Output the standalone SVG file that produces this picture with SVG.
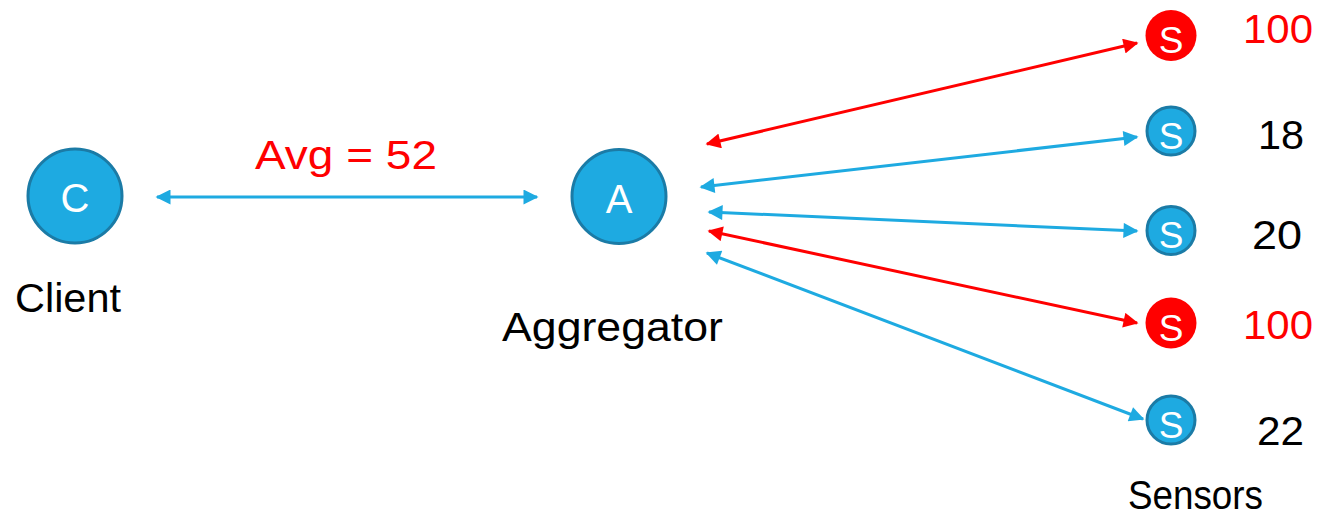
<svg xmlns="http://www.w3.org/2000/svg" width="1321" height="516" viewBox="0 0 1321 516">
  <defs>
    <style>
      .lbl { font-family: "Liberation Sans", Arial, sans-serif; font-size: 40px; fill: #000; }
      .red { fill: #FF0000; }
      .in { font-family: "Liberation Sans", Arial, sans-serif; fill: #fff; text-anchor: middle; }
      .big { font-size: 40px; }
      .sm { font-size: 37px; }
      .nodeB { fill: #1EAAE1; stroke: #1B7BA6; stroke-width: 3; }
      .nodeR { fill: #FF0000; }
      .link { fill: none; stroke-width: 3; }
      .lb { stroke: #1EAAE1; marker-start: url(#hb); marker-end: url(#hb); }
      .lr { stroke: #FF0000; marker-start: url(#hr); marker-end: url(#hr); }
    </style>
    <marker id="hb" viewBox="0 0 10 10" refX="9" refY="5" markerWidth="5.6" markerHeight="5" markerUnits="strokeWidth" orient="auto-start-reverse">
      <path d="M0,0 L10,5 L0,10 z" fill="#1EAAE1"/>
    </marker>
    <marker id="hr" viewBox="0 0 10 10" refX="9" refY="5" markerWidth="5.6" markerHeight="5" markerUnits="strokeWidth" orient="auto-start-reverse">
      <path d="M0,0 L10,5 L0,10 z" fill="#FF0000"/>
    </marker>
  </defs>

  <!-- connectors -->
  <g id="connectors">
    <line class="link lb" x1="157" y1="197" x2="537" y2="197"/>
    <line class="link lr" x1="707" y1="144" x2="1137" y2="43"/>
    <line class="link lb" x1="701" y1="187" x2="1137" y2="137"/>
    <line class="link lb" x1="709" y1="212" x2="1137" y2="231"/>
    <line class="link lr" x1="709" y1="231" x2="1137" y2="323"/>
    <line class="link lb" x1="707" y1="253" x2="1143" y2="419"/>
    <text class="lbl red" x="255" y="169" textLength="182" lengthAdjust="spacingAndGlyphs">Avg = 52</text>
  </g>

  <!-- client -->
  <g id="client">
    <circle class="nodeB" cx="75" cy="196" r="47"/>
    <text class="in big" x="75" y="212">C</text>
    <text class="lbl" x="15" y="312" textLength="106" lengthAdjust="spacingAndGlyphs" font-size="42">Client</text>
  </g>

  <!-- aggregator -->
  <g id="aggregator">
    <circle class="nodeB" cx="619" cy="196.5" r="47"/>
    <text class="in big" x="619" y="213">A</text>
    <text class="lbl" x="502" y="341" textLength="221" lengthAdjust="spacingAndGlyphs">Aggregator</text>
  </g>

  <!-- sensors -->
  <g id="sensor1">
    <circle class="nodeR" cx="1171" cy="35.5" r="25.5"/>
    <text class="in sm" x="1171" y="53">S</text>
    <text class="lbl red" x="1243" y="43" textLength="70" lengthAdjust="spacingAndGlyphs">100</text>
  </g>
  <g id="sensor2">
    <circle class="nodeB" cx="1171" cy="131" r="24"/>
    <text class="in sm" x="1171" y="148.5">S</text>
    <text class="lbl" x="1258" y="149" textLength="46" lengthAdjust="spacingAndGlyphs">18</text>
  </g>
  <g id="sensor3">
    <circle class="nodeB" cx="1171" cy="230.5" r="24"/>
    <text class="in sm" x="1171" y="248">S</text>
    <text class="lbl" x="1252" y="249" textLength="50" lengthAdjust="spacingAndGlyphs">20</text>
  </g>
  <g id="sensor4">
    <circle class="nodeR" cx="1171" cy="323" r="25.5"/>
    <text class="in sm" x="1171" y="340.5">S</text>
    <text class="lbl red" x="1243" y="339" textLength="70" lengthAdjust="spacingAndGlyphs">100</text>
  </g>
  <g id="sensor5">
    <circle class="nodeB" cx="1171" cy="420" r="24"/>
    <text class="in sm" x="1171" y="437.5">S</text>
    <text class="lbl" x="1257" y="445" textLength="47" lengthAdjust="spacingAndGlyphs">22</text>
  </g>
  <g id="sensors-label">
    <text class="lbl" x="1128" y="509" textLength="135" lengthAdjust="spacingAndGlyphs" font-size="38">Sensors</text>
  </g>
</svg>
